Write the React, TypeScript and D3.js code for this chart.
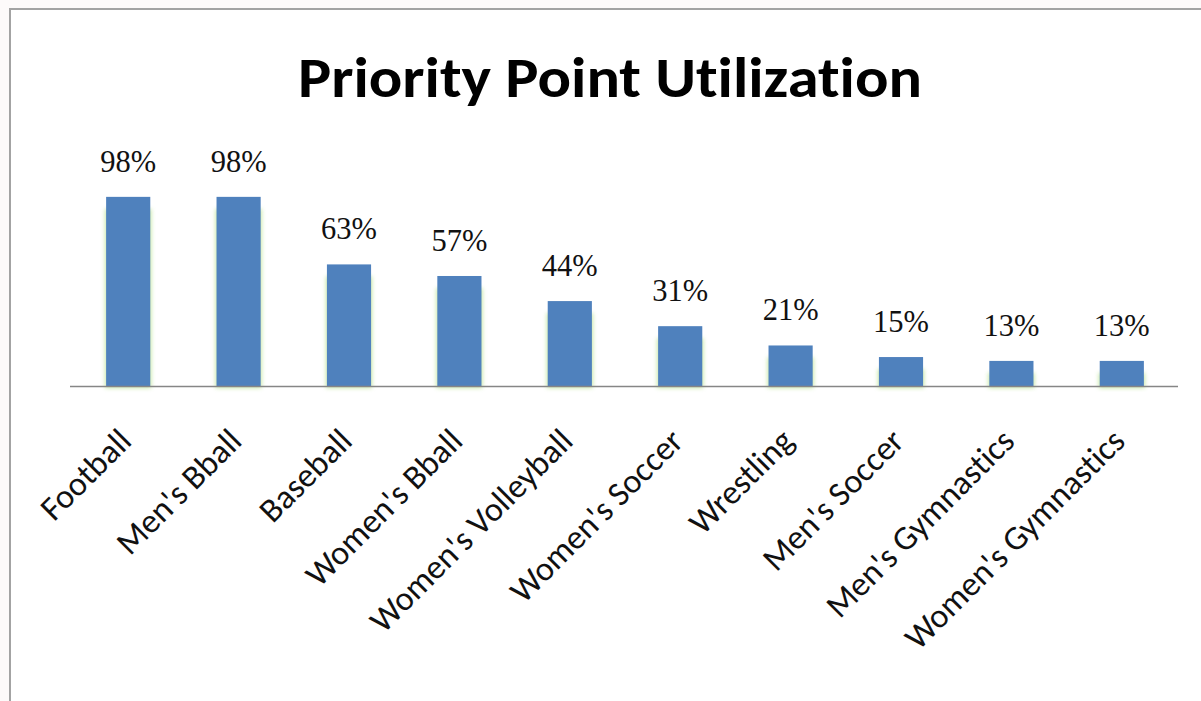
import React from "react";
import * as d3 from "d3";

const categories: string[] = [
  "Football",
  "Men's Bball",
  "Baseball",
  "Women's Bball",
  "Women's Volleyball",
  "Women's Soccer",
  "Wrestling",
  "Men's Soccer",
  "Men's Gymnastics",
  "Women's Gymnastics",
];
const values: number[] = [0.98, 0.98, 0.63, 0.57, 0.44, 0.31, 0.21, 0.15, 0.13, 0.13];
const title = "Priority Point Utilization";

const W = 1201;
const H = 701;

export default function App() {
  const x = d3
    .scaleBand<string>()
    .domain(categories)
    .range([73, 1177])
    .paddingInner(0.6)
    .paddingOuter(0.3);
  const y = d3.scaleLinear().domain([0, 1]).range([386, 193]);
  const fmt = d3.format(".0%");

  return (
    <svg
      width={W}
      height={H}
      style={{ position: "absolute", left: 0, top: 0, display: "block" }}
    >
      <defs>
        <filter id="glow" x="-50%" y="-20%" width="200%" height="140%">
          <feGaussianBlur stdDeviation="2.2" />
        </filter>
      </defs>
      <rect x={0} y={0} width={W} height={H} fill="#fdfafa" />
      <rect
        x={10}
        y={9}
        width={W + 50}
        height={H + 50}
        fill="#ffffff"
        stroke="#a3a3a3"
        strokeWidth={2}
      />
      <text
        x={610}
        y={97}
        textAnchor="middle"
        fontFamily="Carlito, Lato, 'Open Sans', sans-serif"
        fontWeight="bold"
        fontSize={56}
        textLength={624}
        lengthAdjust="spacingAndGlyphs"
        style={{ fontVariantLigatures: "none" }}
        fill="#000"
      >
        {title}
      </text>

      {categories.map((c, i) => {
        const bx = x(c)!;
        const bw = x.bandwidth();
        const top = y(values[i]);
        const h = y(0) - top;
        return (
          <g key={c}>
            <rect
              x={bx - 1}
              y={top + 12}
              width={bw + 2}
              height={h - 10}
              fill="#b5e08a"
              opacity={0.75}
              filter="url(#glow)"
            />
            <rect x={bx} y={top} width={bw} height={h} fill="#4f81bd" />
            <text
              x={bx + bw / 2}
              y={top - 25}
              textAnchor="middle"
              fontFamily="'Liberation Serif', 'DejaVu Serif', serif"
              fontSize={30.5}
              fill="#111"
            >
              {fmt(values[i])}
            </text>
          </g>
        );
      })}

      <line x1={70} x2={1178} y1={386.5} y2={386.5} stroke="#868686" strokeWidth={1.5} />

      {categories.map((c) => {
        const cx = x(c)! + x.bandwidth() / 2;
        return (
          <text
            key={"l" + c}
            transform={`translate(${cx + 5},${443}) rotate(-45)`}
            textAnchor="end"
            fontFamily="Carlito, Lato, 'Open Sans', sans-serif"
            fontSize={34}
            style={{ fontVariantLigatures: "none" }}
            fill="#111"
          >
            {c}
          </text>
        );
      })}
    </svg>
  );
}
